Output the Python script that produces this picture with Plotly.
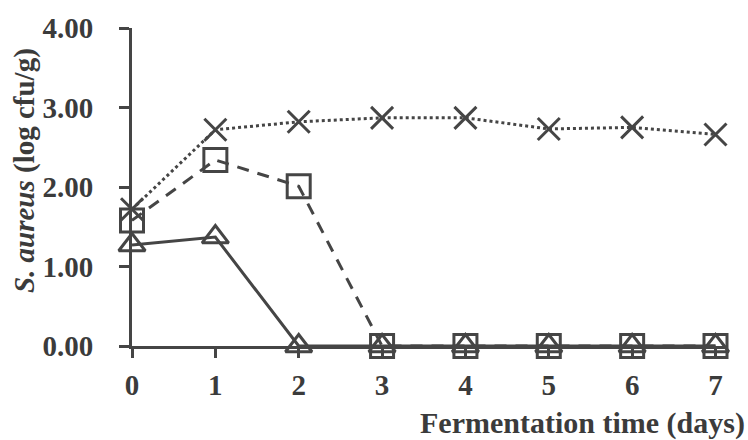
import plotly.graph_objects as go

# Fermentation time (days) and S. aureus counts (log cfu/g) for three batches
days = [0, 1, 2, 3, 4, 5, 6, 7]
series_cross = [1.72, 2.72, 2.82, 2.87, 2.87, 2.73, 2.75, 2.66]
series_square = [1.58, 2.34, 2.01, 0, 0, 0, 0, 0]
series_triangle = [1.27, 1.37, 0, 0, 0, 0, 0, 0]

y_ticks = [0, 1, 2, 3, 4]
y_tick_text = ["0.00", "1.00", "2.00", "3.00", "4.00"]

INK = "#454545"
TEXT = "#3b3b3b"
FONT = "Liberation Serif"

fig = go.Figure()

fig.add_trace(go.Scatter(
    x=days, y=series_triangle, mode="lines+markers",
    line=dict(color=INK, width=3),
    marker=dict(symbol="triangle-up-open", size=23, color=INK,
                line=dict(color=INK, width=3)),
    cliponaxis=False, showlegend=False,
))
fig.add_trace(go.Scatter(
    x=days, y=series_square, mode="lines+markers",
    line=dict(color=INK, width=3, dash="12px,9px"),
    marker=dict(symbol="square-open", size=23, color=INK,
                line=dict(color=INK, width=3)),
    cliponaxis=False, showlegend=False,
))
fig.add_trace(go.Scatter(
    x=days, y=series_cross, mode="lines+markers",
    line=dict(color=INK, width=3, dash="dot"),
    marker=dict(symbol="x-thin-open", size=22, color=INK,
                line=dict(color=INK, width=3)),
    cliponaxis=False, showlegend=False,
))

fig.update_layout(
    width=748, height=440,
    margin=dict(l=132, r=20, t=25, b=94),
    paper_bgcolor="white", plot_bgcolor="white",
    font=dict(family=FONT, color=TEXT, size=29),
    xaxis=dict(
        range=[0, 7.15], tickmode="array", tickvals=days,
        ticktext=[str(d) for d in days],
        showgrid=False, zeroline=False,
        showline=True, linecolor=INK, linewidth=3,
        ticks="outside", ticklen=9, tickwidth=3, tickcolor=INK,
        ticklabelstandoff=2,
        tickfont=dict(family=FONT, size=29, color=TEXT, weight="bold"),
    ),
    yaxis=dict(
        range=[0, 4], tickmode="array", tickvals=y_ticks,
        ticktext=y_tick_text,
        showgrid=False, zeroline=False,
        showline=True, linecolor=INK, linewidth=3,
        ticks="outside", ticklen=10, tickwidth=3, tickcolor=INK,
        ticklabelstandoff=20,
        tickfont=dict(family=FONT, size=29, color=TEXT, weight="bold"),
    ),
    annotations=[
        dict(text="<b>Fermentation time (days)</b>",
             xref="paper", yref="paper", x=1.032, y=0, xanchor="right",
             yanchor="top", yshift=-58, showarrow=False,
             font=dict(family=FONT, size=30, color=TEXT)),
        dict(text="<b><i>S. aureus</i> (log cfu/g)</b>",
             xref="paper", yref="paper", x=0, y=0.55, xanchor="center",
             yanchor="middle", xshift=-108, textangle=-90, showarrow=False,
             font=dict(family=FONT, size=29, color=TEXT)),
    ],
)

fig.write_html("out.html")
